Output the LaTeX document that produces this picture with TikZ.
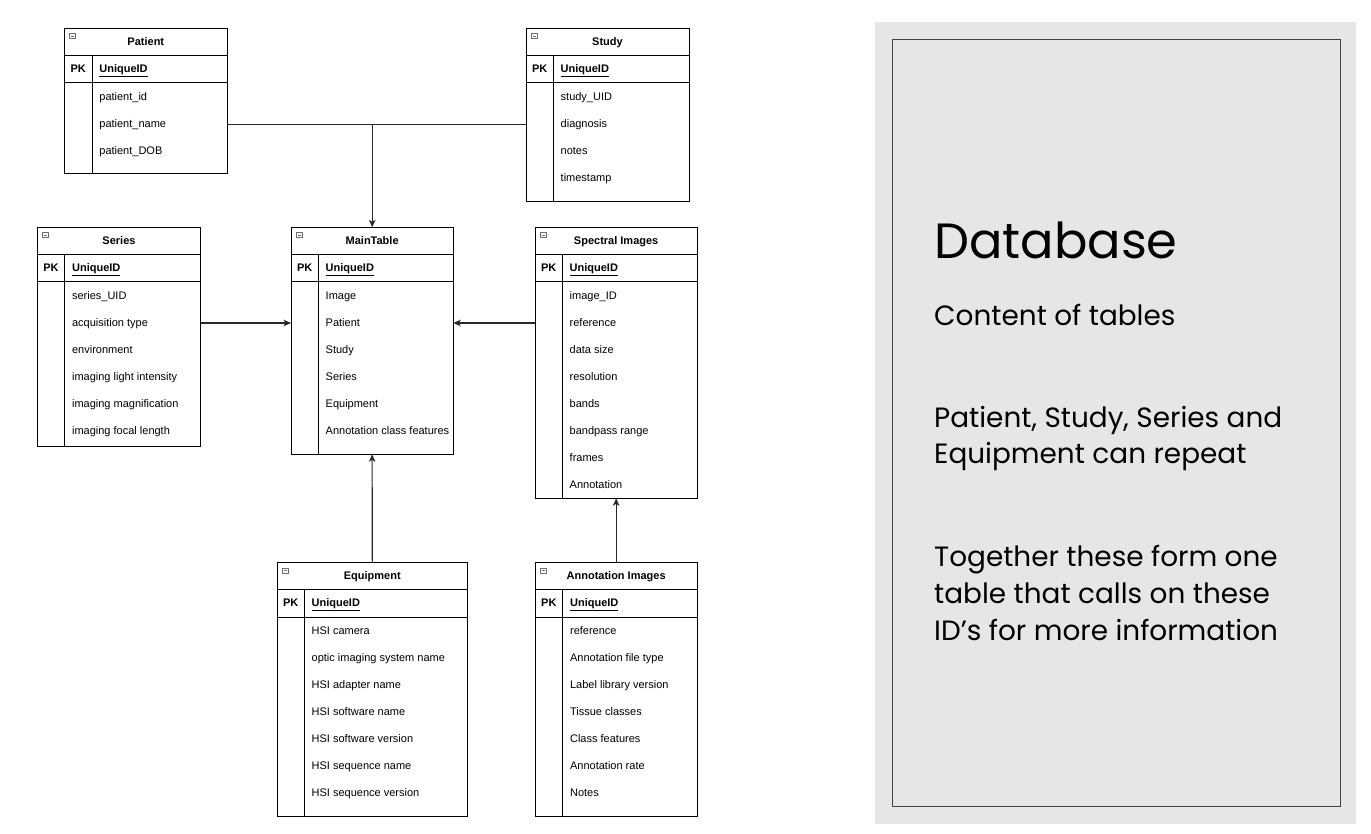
\documentclass[tikz,border=0pt]{standalone}
\usepackage{fontspec}
\setmainfont{Liberation Sans}
\newfontfamily\panelfont{Poppins}
\usetikzlibrary{arrows.meta,calc}
\definecolor{panelgray}{RGB}{231,230,230}
\definecolor{framegray}{RGB}{64,64,64}
\definecolor{linegray}{RGB}{40,40,40}
\definecolor{icongray}{RGB}{110,110,110}
\tikzset{
  tblbox/.style={draw=black, line width=1pt, fill=white, inner sep=0pt, outer sep=0pt, anchor=north west},
  tblline/.style={draw=black, line width=1pt},
  titletxt/.style={font=\fontsize{11}{13}\selectfont\bfseries, inner sep=0pt, text height=8pt, text depth=2pt},
  pktxt/.style={font=\fontsize{11}{13}\selectfont\bfseries, inner sep=0pt, text height=8pt, text depth=2pt},
  rowtxt/.style={font=\fontsize{11}{13}\selectfont, inner sep=0pt, anchor=west, text height=8pt, text depth=2pt},
  iconbox/.style={draw=icongray, line width=0.8pt},
  conn/.style={draw=linegray, line width=1.1pt},
  arr/.style={conn, -{Stealth[length=7.5pt,width=6.5pt,inset=2pt]}},
  paneltxt/.style={anchor=base west, inner sep=0pt, text=black},
}
% #1 name, #2 x1, #3 y1, #4 x2, #5 y2, #6 divider x, #7 title, #8 rows
\newcommand\ertable[8]{%
  \node[tblbox, minimum width={(#4-#2)*1pt}, minimum height={(#5-#3)*1pt}] (#1) at (#2,#3) {};
  \draw[tblline] (#2,{#3+27.2}) -- (#4,{#3+27.2});
  \draw[tblline] (#2,{#3+54.5}) -- (#4,{#3+54.5});
  \draw[tblline] (#6,{#3+27.2}) -- (#6,#5);
  \draw[iconbox] ({#2+5.5},{#3+5.5}) rectangle ({#2+11},{#3+10.5});
  \draw[iconbox] ({#2+6.8},{#3+8}) -- ({#2+9.7},{#3+8});
  \node[titletxt] (#1-t) at ({(#2+#4)/2},{#3+13.8}) {#7};
  \node[pktxt] (#1-pk) at ({(#2+#6)/2},{#3+41}) {PK};
  \node[rowtxt, font=\fontsize{11}{13}\selectfont\bfseries] (#1-id) at ({#6+7.2},{#3+41}) {\underline{UniqueID}};
  \foreach \r [count=\i from 0] in {#8} {
    \node[rowtxt] (#1-r\i) at ({#6+7.2},{#3+69.2+27*\i}) {\r};
  }%
}
\begin{document}
\begin{tikzpicture}[x=1pt,y=-1pt]
\useasboundingbox (0,0) rectangle (1371,833);
\fill[white] (0,0) rectangle (1371,833);

\ertable{pat}{64.3}{28.3}{227.3}{173.3}{92}{Patient}{patient\_id, patient\_name, patient\_DOB}
\ertable{stu}{526}{28.3}{689}{201}{553.3}{Study}{study\_UID, diagnosis, notes, timestamp}
\ertable{ser}{37.3}{227.3}{200.7}{446}{64.7}{Series}{series\_UID, acquisition type, environment, imaging light intensity, imaging magnification, imaging focal length}
\ertable{mai}{291}{227.3}{453.3}{454.3}{318.3}{MainTable}{Image, Patient, Study, Series, Equipment, Annotation class features}
\ertable{spe}{535}{227.3}{697.3}{498.3}{562.3}{Spectral Images}{image\_ID, reference, data size, resolution, bands, bandpass range, frames, Annotation}
\ertable{equ}{277.3}{562.7}{467.3}{816}{304.3}{Equipment}{HSI camera, optic imaging system name, HSI adapter name, HSI software name, HSI software version, HSI sequence name, HSI sequence version}
\ertable{ann}{535}{562.7}{697.3}{816}{562.7}{Annotation Images}{reference, Annotation file type, Label library version, Tissue classes, Class features, Annotation rate, Notes}

% connectors
\coordinate (j) at (372.2,124.5);
\coordinate (s) at (0,323);
\draw[conn] (pat.east |- j) -- (stu.west |- j);
\draw[arr] (j) -- (j |- mai.north);
\draw[arr] (ser.east |- s) -- (mai.west |- s);
\draw[arr] (spe.west |- s) -- (mai.east |- s);
\draw[arr] (equ.north) -- (mai.south);
\draw[arr] (ann.north) -- (spe.south);

% right panel
\node[fill=panelgray, inner sep=0pt, outer sep=0pt, anchor=north west, minimum width=481pt, minimum height=801.3pt] (panel) at (875,22.3) {};
\node[draw=framegray, line width=1pt, inner sep=0pt, outer sep=0pt, anchor=north west, minimum width=448.4pt, minimum height=766.7pt] (frame) at (892.3,39.3) {};
\node[paneltxt, font=\panelfont\fontsize{49.5}{60}\selectfont] (ttl) at (934,258) {Database};
\node[paneltxt, font=\panelfont\fontsize{27.9}{36}\selectfont] (l1) at (934,325) {Content of tables};
\node[paneltxt, font=\panelfont\fontsize{27.9}{36}\selectfont] (l2) at (934,427) {Patient, Study, Series and};
\node[paneltxt, font=\panelfont\fontsize{27.9}{36}\selectfont] (l3) at (934,463.7) {Equipment can repeat};
\node[paneltxt, font=\panelfont\fontsize{27.9}{36}\selectfont] (l4) at (934,566.7) {Together these form one};
\node[paneltxt, font=\panelfont\fontsize{27.9}{36}\selectfont] (l5) at (934,603.3) {table that calls on these};
\node[paneltxt, font=\panelfont\fontsize{27.9}{36}\selectfont] (l6) at (934,640) {ID’s for more information};
\end{tikzpicture}
\end{document}
